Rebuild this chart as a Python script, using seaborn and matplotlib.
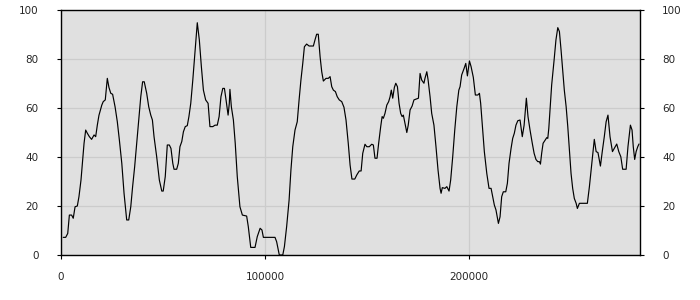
import matplotlib
matplotlib.use("Agg")
import matplotlib.pyplot as plt
import seaborn as sns
import pandas as pd

x_vals = [1100, 2300, 3300, 4100, 5200, 6000, 6900, 8000, 8800, 9800, 10600, 11300, 12100, 12900,
          13900, 15000, 16200, 17000, 17800, 18600, 20000, 20700, 21700, 22700, 23500, 24400, 25300,
          26500, 27600, 28600, 29800, 30900, 32200, 33200, 34200, 35100, 36100, 37100, 38100, 39100,
          40000, 40800, 42000, 43000, 44000, 44800, 45600, 46900, 48200, 49400, 50100, 51100, 52100,
          53100, 53900, 54800, 55400, 56700, 57500, 58300, 59200, 60000, 60900, 61900, 62700, 63600,
          64600, 65700, 66800, 67800, 68800, 69800, 70900, 72100, 73000, 74400, 75500, 76600, 77500,
          78400, 79300, 80100, 80900, 81900, 82500, 82800, 83500, 84500, 85400, 86400, 87700, 88900,
          91000, 91800, 93000, 95100, 96200, 97600, 98500, 99200, 104900, 105700, 107000, 108700,
          109500, 110600, 111800, 112700, 113600, 114700, 115800, 116700, 117600, 118500, 119300,
          120400, 121600, 123700, 124500, 125300, 126100, 127000, 127800, 128600, 129900, 131000,
          131900, 132700, 133500, 134500, 135400, 136400, 137600, 138700, 139700, 140800, 141700,
          142600, 144000, 145000, 146200, 147100, 147900, 149000, 149900, 151100, 152300, 153100,
          153900, 154900, 155700, 156700, 157400, 158000, 158800, 159700, 160600, 161300, 161900,
          162600, 163400, 164100, 164900, 165700, 166500, 167200, 167800, 168600, 169500, 170200,
          171100, 172100, 173000, 174000, 175200, 176000, 176800, 177900, 178400, 179300, 179900,
          180900, 181700, 182800, 183800, 184800, 185800, 186300, 186900, 188200, 189100, 190200,
          191000, 192000, 193000, 194000, 195000, 195600, 196400, 197600, 198400, 199200, 200200,
          201000, 202100, 203100, 204300, 205100, 205700, 206700, 207500, 208700, 209800, 210800,
          211600, 212400, 213200, 214400, 215200, 216000, 216800, 218000, 218800, 219600, 220600,
          221400, 222200, 223000, 223900, 225000, 226100, 227000, 227600, 228100, 228900, 229900,
          231000, 231900, 232800, 233700, 234500, 235000, 235600, 236300, 237300, 238100, 238600,
          239100, 239700, 240500, 241700, 242600, 243500, 244300, 245100, 245900, 246700, 247600,
          248400, 249200, 250000, 250800, 251600, 252500, 253100, 254100, 258000, 259000, 260000,
          260800, 261400, 262300, 263200, 264400, 265300, 266300, 267200, 268100, 269100, 270300,
          271200, 272400, 273400, 274400, 275300, 277000, 277900, 279100, 279900, 280500, 281200,
          281900, 282700, 283300]

y_vals = [7.2, 7.2, 8.8, 16.3, 16.3, 15.0, 19.7, 20.0, 23.8, 30.6, 38.8, 45.6, 51.0, 49.7,
          48.3, 47.2, 49.0, 48.3, 53.0, 57.0, 61.2, 62.6, 63.3, 72.1, 68.4, 66.0, 65.6,
          60.5, 54.4, 47.0, 37.4, 25.2, 14.3, 14.3, 19.7, 27.9, 36.0, 45.6, 55.1, 64.6,
          70.7, 70.7, 66.0, 60.5, 57.1, 55.1, 48.3, 40.1, 30.6, 26.1, 26.1, 32.0, 44.9,
          44.9, 43.5, 37.4, 35.0, 35.0, 37.4, 44.2, 46.3, 50.3, 52.4, 52.8, 56.5, 61.9,
          71.4, 83.0, 94.8, 87.8, 76.9, 67.3, 63.3, 61.9, 52.4, 52.4, 53.0, 53.0, 56.5,
          64.6, 68.0, 68.0, 63.3, 57.1, 61.9, 67.6, 60.5, 55.1, 45.6, 32.0, 19.7, 16.3,
          15.9, 11.6, 3.1, 3.1, 7.5, 10.9, 10.2, 7.2, 7.2, 5.4, 0.0, 0.0,
          3.4, 11.6, 22.4, 34.7, 44.2, 51.0, 54.4, 63.3, 71.4, 78.2, 85.0,
          86.1, 85.3, 85.3, 87.8, 90.1, 90.1, 80.9, 74.8, 71.0, 72.1, 72.1,
          72.8, 68.7, 67.3, 66.7, 64.6, 63.3, 62.6, 60.3, 55.1, 45.6, 36.7,
          31.0, 31.0, 32.7, 34.3, 34.3, 41.5, 45.2, 44.2, 44.2, 45.2, 44.9,
          39.5, 39.5, 45.6, 52.4, 56.5, 55.8, 57.8, 61.2, 62.6, 64.6, 67.3,
          64.0, 68.4, 70.1, 68.7, 61.9, 57.8, 56.5, 57.1, 53.7, 50.0, 53.0,
          59.2, 60.8, 63.3, 63.6, 64.0, 74.1, 71.4, 70.1, 72.1, 74.8, 71.7,
          64.6, 57.8, 53.0, 44.2, 34.7, 27.2, 25.2, 27.5, 27.2, 27.9, 26.1,
          30.6, 40.1, 51.0, 60.5, 67.3, 68.7, 73.5, 76.2, 78.2, 73.1, 79.2,
          76.9, 72.5, 65.3, 65.3, 66.0, 61.9, 51.0, 42.2, 33.3, 27.2, 27.2,
          23.8, 20.4, 18.4, 12.9, 15.6, 23.8, 25.8, 25.8, 29.3, 37.4, 43.5,
          47.6, 49.7, 53.0, 54.8, 55.1, 48.3, 53.0, 59.2, 64.0, 56.5, 51.0,
          45.6, 41.5, 39.0, 38.1, 38.1, 37.1, 41.5, 45.6, 46.9, 47.9, 47.6,
          51.7, 59.2, 69.4, 79.6, 87.8, 92.8, 91.2, 83.7, 75.5, 67.3, 60.5,
          52.4, 42.9, 33.3, 27.2, 23.1, 21.1, 19.0, 21.1, 21.1, 27.9, 36.0,
          42.9, 47.2, 42.2, 41.8, 36.3, 42.2, 48.3, 54.4, 57.1, 48.3, 42.2,
          43.5, 45.3, 42.2, 40.1, 35.0, 35.0, 44.2, 53.0, 51.0, 44.2, 39.0,
          42.2, 44.2, 45.3]

x_ticks = [0, 100000, 200000]
y_ticks = [0, 20, 40, 60, 80, 100]

df = pd.DataFrame({"x": x_vals, "y": y_vals})

sns.set_theme(style="white")
plt.rcParams["font.family"] = ["DejaVu Sans"]

fig = plt.figure(figsize=(7, 3), dpi=100)
ax = fig.add_axes([61 / 700, 45 / 300, 579 / 700, 245 / 300])
ax.set_facecolor("#e0e0e0")

sns.lineplot(data=df, x="x", y="y", ax=ax, color="black", linewidth=0.85,
             estimator=None, sort=False)

ax.set_xlim(0, 283800)
ax.set_ylim(0, 100)
ax.set_xticks(x_ticks)
ax.set_xticklabels([str(t) for t in x_ticks])
ax.set_yticks(y_ticks)
ax.set_yticklabels([str(t) for t in y_ticks])
ax.set_xlabel("")
ax.set_ylabel("")

ax.grid(True, color="#cccccc", linewidth=0.9)
ax.set_axisbelow(True)
for s in ax.spines.values():
    s.set_color("black")
    s.set_linewidth(1.0)
    s.set_visible(True)

ax.tick_params(axis="x", direction="out", length=3, width=0.8, color="black",
               labelsize=7.5, pad=9, bottom=True)
ax.tick_params(axis="y", direction="out", length=3, width=0.8, color="black",
               labelsize=7.5, pad=13, left=True, right=True, labelright=True)

fig.savefig("out.png", dpi=100)
